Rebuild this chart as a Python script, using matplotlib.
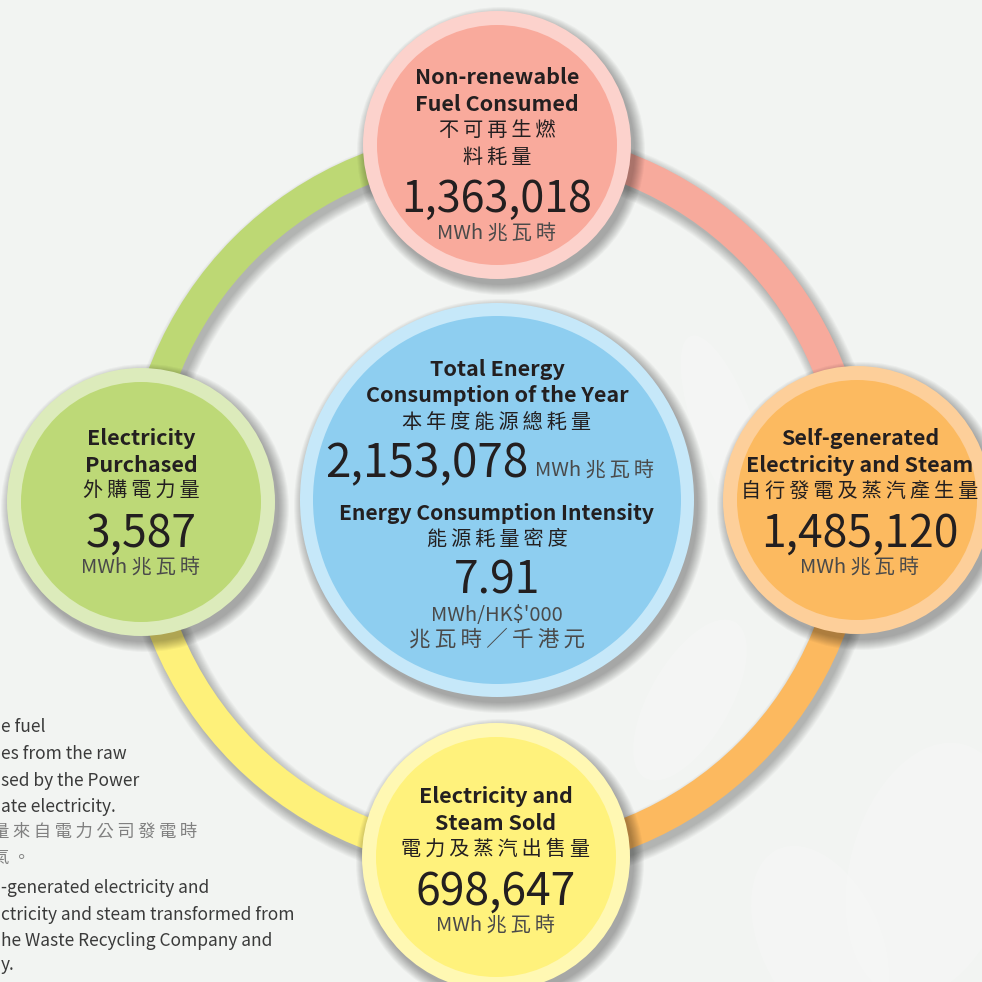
import matplotlib
matplotlib.use("Agg")
import matplotlib.pyplot as plt
from matplotlib.patches import Circle, Wedge, Ellipse

plt.rcParams["font.family"] = ["Noto Sans CJK TC", "DejaVu Sans"]

# ---- data -------------------------------------------------------------
node_title_en = [["Non-renewable", "Fuel Consumed"],
                 ["Self-generated", "Electricity and Steam"],
                 ["Electricity and", "Steam Sold"],
                 ["Electricity", "Purchased"]]
node_title_zh = [["不可再生燃", "料耗量"],
                 ["自行發電及蒸汽產生量"],
                 ["電力及蒸汽出售量"],
                 ["外購電力量"]]
node_values = [1363018, 1485120, 698647, 3587]
unit_en, unit_zh = "MWh", "兆瓦時"

total_title_en = ["Total Energy", "Consumption of the Year"]
total_title_zh = "本年度能源總耗量"
total_value = 2153078
intensity_title_en = "Energy Consumption Intensity"
intensity_title_zh = "能源耗量密度"
intensity_value = 7.91
intensity_unit_en = "MWh/HK$'000"
intensity_unit_zh = "兆瓦時／千港元"

note_lines = ["e fuel", "es from the raw", "sed by the Power", "ate electricity.",
              "量來自電力公司發電時", "氣。",
              "-generated electricity and", "ctricity and steam transformed from",
              "he Waste Recycling Company and", "y."]

# ---- layout / style ---------------------------------------------------
BG = "#f2f4f2"
RING_C = (497, 501)
RING_R = 357
RING_W = 31
arc_colors = ["#f7aa9c", "#fcb95f", "#fef17a", "#bdd874"]   # top->right->bottom->left->top
arc_angles = [(270, 360), (0, 90), (90, 180), (180, 270)]

node_pos = [(497, 145), (857, 500), (496, 857), (141, 502)]
node_text_x = [497, 860, 496, 141]
node_first_base = [84, 445, 803, 445]
node_num_size = [31, 32, 32, 32]
node_inner = ["#f9aa9c", "#fcba60", "#fff27c", "#bdd977"]
node_outer = ["#fcd2cc", "#fdcf9a", "#fff8b3", "#dcebbb"]
NODE_R, NODE_RI = 134, 120

DARK = "#231f20"
GREY = "#4a4a4a"


def spaced(s):
    return "\u2009".join(s)


fig = plt.figure(figsize=(9.82, 9.82), dpi=100)
fig.patch.set_facecolor(BG)
ax = fig.add_axes([0, 0, 1, 1])
ax.set_xlim(0, 982)
ax.set_ylim(982, 0)
ax.set_aspect("equal")
ax.axis("off")

# faint leaves in background
for (x, y, w, h, a) in [(725, 430, 60, 200, -20), (930, 870, 160, 260, 15),
                        (690, 700, 80, 180, 30), (820, 940, 120, 200, -25)]:
    ax.add_patch(Ellipse((x, y), w, h, angle=a, color="white", alpha=0.18, lw=0))

# ring shadow + ring
for d in range(9, -1, -1):
    for (t1, t2) in arc_angles:
        ax.add_patch(Wedge((RING_C[0] + 4, RING_C[1] + 6), RING_R + RING_W / 2 + d,
                           t1, t2, width=RING_W + 2 * d, color="black",
                           alpha=0.028, lw=0))
for col, (t1, t2) in zip(arc_colors, arc_angles):
    ax.add_patch(Wedge(RING_C, RING_R + RING_W / 2, t1, t2, width=RING_W,
                       color=col, lw=0))


def circle_with_shadow(c, r, ri, outer, inner):
    for d in range(10, -1, -1):
        ax.add_patch(Circle((c[0] + 4, c[1] + 6), r + d, color="black",
                            alpha=0.03, lw=0))
    ax.add_patch(Circle(c, r, color=outer, lw=0))
    ax.add_patch(Circle(c, ri, color=inner, lw=0))


for c, o, i in zip(node_pos, node_outer, node_inner):
    circle_with_shadow(c, NODE_R, NODE_RI, o, i)
circle_with_shadow((497, 500), 197, 184, "#c6e8f9", "#8ecef0")

# ---- node texts -------------------------------------------------------
for k in range(4):
    x = node_text_x[k]
    y = node_first_base[k]
    for line in node_title_en[k]:
        ax.text(x, y, line, ha="center", va="baseline", fontsize=15.5,
                fontweight="bold", color=DARK)
        y += 26.5
    for line in node_title_zh[k]:
        ax.text(x, y - 1, spaced(line), ha="center", va="baseline", fontsize=14.5,
                color=DARK)
        y += 26.5
    y += 22
    ax.text(x, y, f"{node_values[k]:,}", ha="center", va="baseline",
            fontsize=node_num_size[k], color=DARK)
    y += 27.5
    ax.text(x, y, unit_en + " " + spaced(unit_zh), ha="center", va="baseline",
            fontsize=14.5, color=GREY)

# ---- centre texts -----------------------------------------------------
cx = 497
ax.text(cx, 376, total_title_en[0], ha="center", va="baseline", fontsize=15.5,
        fontweight="bold", color=DARK)
ax.text(cx, 402, total_title_en[1], ha="center", va="baseline", fontsize=15.5,
        fontweight="bold", color=DARK)
ax.text(cx, 428, spaced(total_title_zh), ha="center", va="baseline", fontsize=14.5,
        color=DARK)
ax.text(528, 477, f"{total_value:,}", ha="right", va="baseline", fontsize=33,
        color=DARK)
ax.text(535, 477, unit_en + " " + spaced(unit_zh), ha="left", va="baseline",
        fontsize=14.5, color=GREY)
ax.text(cx, 520, intensity_title_en, ha="center", va="baseline", fontsize=15.2,
        fontweight="bold", color=DARK)
ax.text(cx, 545, spaced(intensity_title_zh), ha="center", va="baseline",
        fontsize=14.5, color=DARK)
ax.text(cx, 594, f"{intensity_value:.2f}", ha="center", va="baseline", fontsize=32,
        color=DARK)
ax.text(cx, 621, intensity_unit_en, ha="center", va="baseline", fontsize=14.5,
        color=GREY)
ax.text(cx, 646, spaced(intensity_unit_zh), ha="center", va="baseline",
        fontsize=15.5, color=GREY)

# ---- side notes (cut off at the left edge, as in the source page) -----
note_base = [732, 759, 786, 812, 837, 863, 893, 920, 946, 970]
for line, yb in zip(note_lines, note_base):
    if any("\u4e00" <= ch <= "\u9fff" for ch in line):
        ax.text(-8, yb, spaced(line), ha="left", va="baseline", fontsize=12.5,
                color="#808080")
    else:
        ax.text(1, yb, line, ha="left", va="baseline", fontsize=12.5,
                color="#3a3a3a")

fig.savefig("out.png", dpi=100, facecolor=BG)
